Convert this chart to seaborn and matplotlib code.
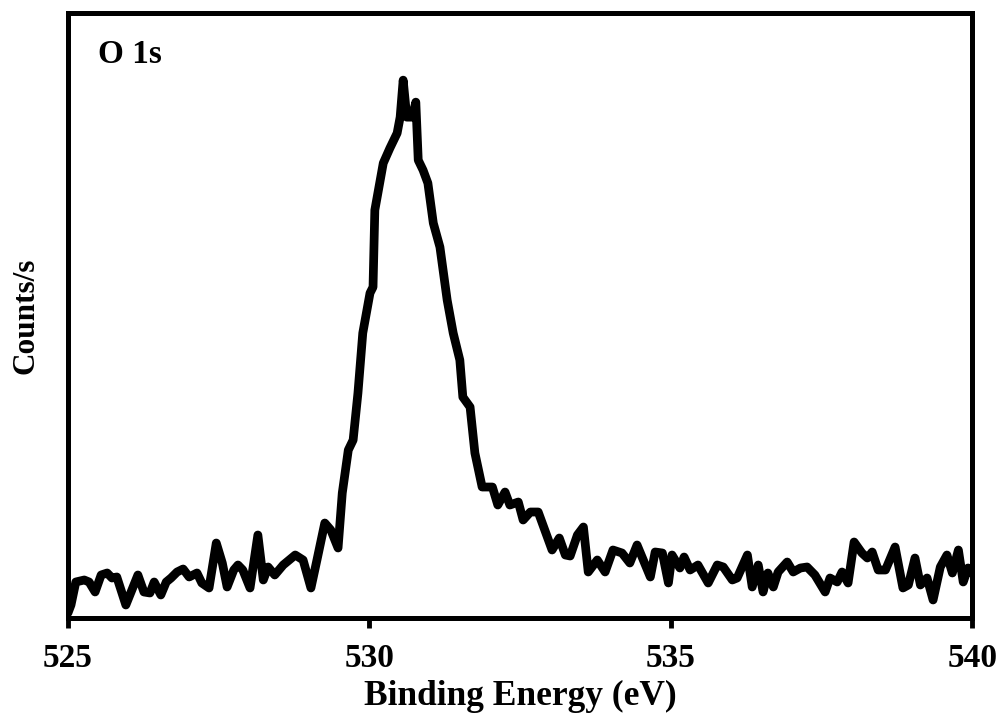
import numpy as np
import pandas as pd
import seaborn as sns
from matplotlib import pyplot as plt

# O 1s spectrum (binding energy in eV, counts in arbitrary units)
energy = [
    525.00, 525.05, 525.13, 525.27, 525.35, 525.45, 525.55, 525.65, 525.73, 525.81,
    525.96, 526.06, 526.16, 526.26, 526.36, 526.43, 526.54, 526.63, 526.71, 526.81,
    526.91, 527.01, 527.14, 527.22, 527.34, 527.46, 527.56, 527.64, 527.75, 527.82,
    527.90, 528.02, 528.15, 528.24, 528.32, 528.43, 528.57, 528.77, 528.90, 529.03,
    529.13, 529.26, 529.36, 529.48, 529.55, 529.65, 529.73, 529.81, 529.89, 530.01,
    530.06, 530.09, 530.18, 530.23, 530.34, 530.46, 530.51, 530.56, 530.62, 530.71,
    530.77, 530.81, 530.89, 530.97, 531.06, 531.17, 531.29, 531.39, 531.50, 531.55,
    531.67, 531.75, 531.87, 532.04, 532.13, 532.25, 532.33, 532.47, 532.55, 532.67,
    532.80, 533.03, 533.15, 533.25, 533.33, 533.45, 533.55, 533.63, 533.78, 533.91,
    534.04, 534.19, 534.32, 534.44, 534.66, 534.74, 534.86, 534.96, 535.02, 535.15,
    535.22, 535.32, 535.45, 535.62, 535.77, 535.87, 536.02, 536.10, 536.27, 536.35,
    536.45, 536.53, 536.61, 536.70, 536.78, 536.93, 537.03, 537.15, 537.26, 537.39,
    537.56, 537.64, 537.76, 537.84, 537.94, 538.04, 538.17, 538.26, 538.34, 538.44,
    538.56, 538.72, 538.85, 538.94, 539.05, 539.14, 539.25, 539.35, 539.47, 539.58,
    539.67, 539.77, 539.85, 539.93, 540.00,
]
counts = [
    5, 13, 36, 38, 36, 26, 43, 45, 40, 41,
    13, 28, 43, 26, 25, 36, 23, 36, 40, 46,
    49, 41, 45, 35, 30, 75, 55, 31, 48, 53,
    48, 30, 83, 38, 51, 43, 53, 63, 58, 30,
    58, 95, 88, 70, 125, 168, 178, 225, 285, 325,
    331, 408, 438, 455, 470, 485, 501, 538, 501, 501,
    516, 458, 448, 435, 395, 371, 318, 285, 258, 221,
    211, 165, 131, 131, 113, 126, 113, 116, 98, 106,
    106, 68, 80, 63, 62, 83, 91, 46, 58, 46,
    68, 65, 55, 73, 41, 66, 65, 35, 63, 50,
    61, 48, 53, 35, 53, 51, 38, 40, 63, 31,
    53, 26, 45, 31, 46, 56, 46, 50, 51, 43,
    26, 40, 36, 46, 35, 76, 65, 60, 66, 48,
    48, 71, 30, 33, 60, 33, 40, 18, 51, 63,
    45, 68, 36, 50, 45,
]
x_ticks = [525, 530, 535, 540]

df = pd.DataFrame({"Binding Energy (eV)": energy, "Counts/s": counts})

sns.set_style("ticks")
plt.rcParams["font.family"] = ["Liberation Serif", "DejaVu Serif"]
plt.rcParams["font.weight"] = "bold"
plt.rcParams["text.color"] = "black"
plt.rcParams["axes.labelcolor"] = "black"
plt.rcParams["xtick.color"] = "black"

fig = plt.figure(figsize=(10.07, 7.2), dpi=100)
ax = fig.add_axes([0.0675, 0.1417, 0.898, 0.840])

sns.lineplot(data=df, x="Binding Energy (eV)", y="Counts/s", sort=False,
             color="black", linewidth=6.3, ax=ax)
for line in ax.get_lines():
    line.set_solid_joinstyle("round")
    line.set_solid_capstyle("round")

ax.set_xlim(525, 540)
ax.set_ylim(0, 605)
ax.set_xticks(x_ticks)
ax.set_xticklabels([str(t) for t in x_ticks], fontsize=24, fontweight="bold")
ax.set_yticks([])
ax.tick_params(axis="x", direction="out", length=7, width=3.5, pad=11)
for spine in ax.spines.values():
    spine.set_visible(True)
    spine.set_linewidth(3.6)
    spine.set_color("black")

ax.set_xlabel("Binding Energy (eV)", fontsize=25.5, fontweight="bold", labelpad=4)
ax.set_ylabel("Counts/s", fontsize=22.5, fontweight="bold", labelpad=20)
ax.text(0.033, 0.958, "O 1s", transform=ax.transAxes, fontsize=24,
        fontweight="bold", va="top", ha="left")

fig.savefig("out.png", dpi=100)
